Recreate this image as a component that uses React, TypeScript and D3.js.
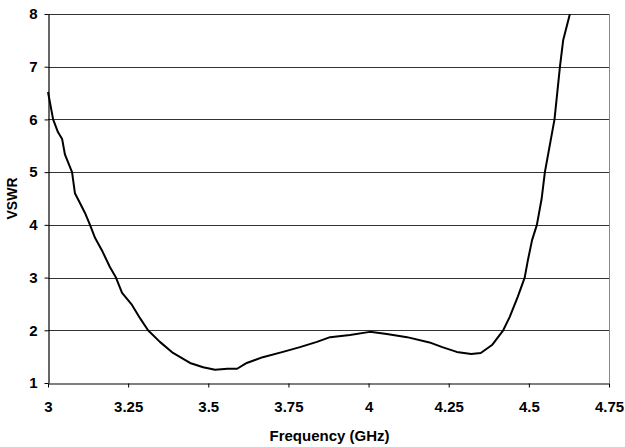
import React, { useEffect, useRef } from 'react';
import * as d3 from 'd3';

// Frequency (GHz) and VSWR
const freq = [
  3.0, 3.016, 3.031, 3.044, 3.053, 3.075, 3.084, 3.1, 3.115, 3.131, 3.147, 3.168, 3.193,
  3.212, 3.231, 3.262, 3.287, 3.312, 3.349, 3.39, 3.443, 3.484, 3.521, 3.56, 3.59, 3.62,
  3.67, 3.733, 3.786, 3.839, 3.88, 3.942, 4.004, 4.057, 4.12, 4.19, 4.23, 4.275, 4.32,
  4.35, 4.385, 4.42, 4.44, 4.465, 4.487, 4.497, 4.51, 4.525, 4.54, 4.55, 4.58, 4.597,
  4.607, 4.628,
];
const vswr = [
  6.52, 6.0, 5.76, 5.63, 5.33, 5.0, 4.6, 4.41, 4.23, 4.0, 3.75, 3.52, 3.2,
  3.0, 2.71, 2.48, 2.23, 2.0, 1.78, 1.57, 1.38, 1.3, 1.25, 1.27, 1.27, 1.38,
  1.49, 1.59, 1.68, 1.78, 1.87, 1.91, 1.97, 1.93, 1.87, 1.77, 1.68, 1.59, 1.55,
  1.57, 1.72, 2.0, 2.25, 2.63, 3.0, 3.33, 3.71, 4.0, 4.5, 5.0, 6.0, 7.0,
  7.5, 8.0,
];

const xTicks = [3, 3.25, 3.5, 3.75, 4, 4.25, 4.5, 4.75];
const yTicks = [1, 2, 3, 4, 5, 6, 7, 8];

const width = 625;
const height = 447;
const margin = { left: 48, right: 16, top: 14, bottom: 64 };
const font = '"Liberation Sans", Arial, sans-serif';

const App = () => {
  const svgRef = useRef<SVGSVGElement>(null);

  useEffect(() => {
    const svg = d3.select(svgRef.current);
    svg.selectAll('*').remove();

    const x = d3.scaleLinear().domain([3, 4.75]).range([margin.left, width - margin.right]);
    const y = d3.scaleLinear().domain([1, 8]).range([height - margin.bottom, margin.top]);

    // horizontal gridlines
    svg.append('g')
      .selectAll('line')
      .data(yTicks.slice(1, -1))
      .join('line')
      .attr('x1', x(3))
      .attr('x2', x(4.75))
      .attr('y1', (d) => Math.round(y(d)) + 0.5)
      .attr('y2', (d) => Math.round(y(d)) + 0.5)
      .attr('stroke', '#333')
      .attr('stroke-width', 1);

    // top and right border
    svg.append('line')
      .attr('x1', x(3)).attr('x2', x(4.75))
      .attr('y1', Math.round(y(8)) + 0.5).attr('y2', Math.round(y(8)) + 0.5)
      .attr('stroke', '#333');
    svg.append('line')
      .attr('x1', Math.round(x(4.75)) + 0.5).attr('x2', Math.round(x(4.75)) + 0.5)
      .attr('y1', y(8)).attr('y2', y(1))
      .attr('stroke', '#888');

    // axes
    const xAxis = svg.append('g')
      .attr('transform', `translate(0,${Math.round(y(1)) + 0.5})`)
      .call(d3.axisBottom(x).tickValues(xTicks).tickSize(4).tickSizeOuter(0).tickPadding(14).tickFormat((d) => `${d}`));
    const yAxis = svg.append('g')
      .attr('transform', `translate(${Math.round(x(3)) + 0.5},0)`)
      .call(d3.axisLeft(y).tickValues(yTicks).tickSize(4).tickSizeOuter(0).tickPadding(7).tickFormat((d) => `${d}`));

    [xAxis, yAxis].forEach((a) => {
      a.select('.domain').attr('stroke', '#000').attr('stroke-width', 1.2);
      a.selectAll('.tick line').attr('stroke', '#000');
      a.selectAll('.tick text')
        .attr('fill', '#000')
        .style('font-family', font)
        .style('font-size', '15px')
        .style('font-weight', 'bold');
    });

    // curve
    const line = d3.line<number>()
      .x((_, i) => x(freq[i]))
      .y((d) => y(d))
      .curve(d3.curveLinear);
    svg.append('path')
      .datum(vswr)
      .attr('d', line)
      .attr('fill', 'none')
      .attr('stroke', '#000')
      .attr('stroke-width', 2)
      .attr('stroke-linejoin', 'round');

    // axis titles
    svg.append('text')
      .attr('x', (x(3) + x(4.75)) / 2 + 1)
      .attr('y', 441)
      .attr('text-anchor', 'middle')
      .style('font-family', font)
      .style('font-size', '15px')
      .style('font-weight', 'bold')
      .text('Frequency (GHz)');
    svg.append('text')
      .attr('transform', `translate(17,${(y(1) + y(8)) / 2}) rotate(-90)`)
      .attr('text-anchor', 'middle')
      .style('font-family', font)
      .style('font-size', '14px')
      .style('font-weight', 'bold')
      .text('VSWR');
  }, []);

  return (
    <svg
      ref={svgRef}
      width={width}
      height={height}
      style={{ position: 'absolute', left: 0, top: 0, background: '#fff' }}
    />
  );
};

export default App;
